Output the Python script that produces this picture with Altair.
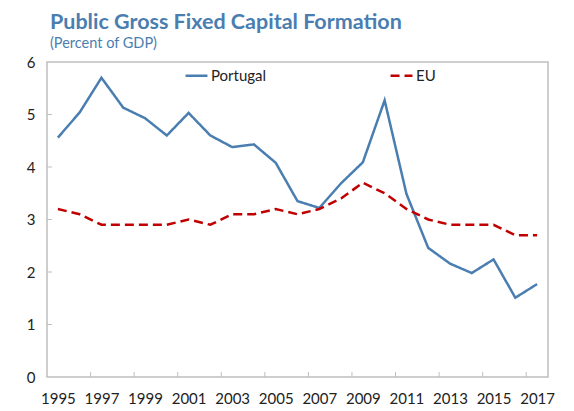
import altair as alt
import pandas as pd

years = list(range(1995, 2018))
portugal = [4.56, 5.04, 5.70, 5.13, 4.93, 4.60, 5.03, 4.60, 4.38, 4.43, 4.08, 3.35,
            3.22, 3.69, 4.09, 5.27, 3.49, 2.46, 2.16, 1.98, 2.24, 1.51, 1.77]
eu = [3.2, 3.1, 2.9, 2.9, 2.9, 2.9, 3.0, 2.9, 3.1, 3.1, 3.2, 3.1,
      3.2, 3.4, 3.7, 3.5, 3.2, 3.0, 2.9, 2.9, 2.9, 2.7, 2.7]
series_names = ["Portugal", "EU"]
x_label_years = list(range(1995, 2018, 2))
x_tick_pos = [y + 0.5 for y in range(1996, 2017, 2)]
y_ticks = [0, 1, 2, 3, 4, 5, 6]

FONT = "Lato"
BLUE = "#4a7eb0"
RED = "#c00000"
GRAY = "#bfbfbf"
W, H = 501, 315

rows = []
for i, yr in enumerate(years):
    rows.append({"year": yr, "value": portugal[i], "series": "Portugal"})
    rows.append({"year": yr, "value": eu[i], "series": "EU"})
df = pd.DataFrame(rows)

xscale = alt.Scale(domain=[1994.5, 2017.5], nice=False, zero=False)
yscale = alt.Scale(domain=[0, 6], nice=False)

lines = alt.Chart(df).mark_line(strokeWidth=2.5, strokeCap="butt").encode(
    x=alt.X("year:Q", scale=xscale,
            axis=alt.Axis(values=x_label_years, format="d", title=None, ticks=False,
                          domain=False, grid=False, labelPadding=14, labelFontSize=15,
                          labelFont=FONT, labelColor="#222222", labelFlush=False)),
    y=alt.Y("value:Q", scale=yscale,
            axis=alt.Axis(values=y_ticks, title=None, ticks=False, domain=False, grid=False,
                          labelPadding=12, labelFontSize=15, labelFont=FONT,
                          labelColor="#222222")),
    color=alt.Color("series:N", scale=alt.Scale(domain=series_names, range=[BLUE, RED]),
                    legend=alt.Legend(title=None, orient="none", direction="horizontal",
                                      legendX=137, legendY=1, columnPadding=118,
                                      symbolType="stroke", symbolSize=480,
                                      symbolStrokeWidth=2.5, labelFontSize=15,
                                      labelFont=FONT, labelColor="#222222", labelOffset=2)),
    strokeDash=alt.StrokeDash("series:N",
                              scale=alt.Scale(domain=series_names, range=[[1, 0], [9, 5]]),
                              legend=None),
    detail="series:N",
)

xt = pd.DataFrame({"pos": x_tick_pos})
xticks = alt.Chart(xt).mark_rule(color=GRAY, strokeWidth=1).encode(
    x=alt.X("pos:Q", scale=xscale), y=alt.value(H), y2=alt.value(H - 5))

yt = pd.DataFrame({"v": y_ticks[1:-1]})
yticks = alt.Chart(yt).mark_rule(color=GRAY, strokeWidth=1).encode(
    y=alt.Y("v:Q", scale=yscale), x=alt.value(0), x2=alt.value(5))

chart = alt.layer(xticks, yticks, lines).properties(
    width=W, height=H,
    title=alt.TitleParams(text="Public Gross Fixed Capital Formation",
                          subtitle="(Percent of GDP)", anchor="start", frame="group",
                          dx=3, offset=5, font=FONT, fontSize=21.5, fontWeight="bold",
                          color=BLUE, subtitleFont=FONT, subtitleFontSize=14.5,
                          subtitleColor=BLUE, subtitlePadding=3),
    autosize=alt.AutoSizeParams(type="none"),
    padding={"left": 39, "top": 54, "right": 10, "bottom": 30},
).configure_view(stroke=GRAY, strokeWidth=1.5)

chart.save("out.html", embed_options={"renderer": "svg", "actions": False})
